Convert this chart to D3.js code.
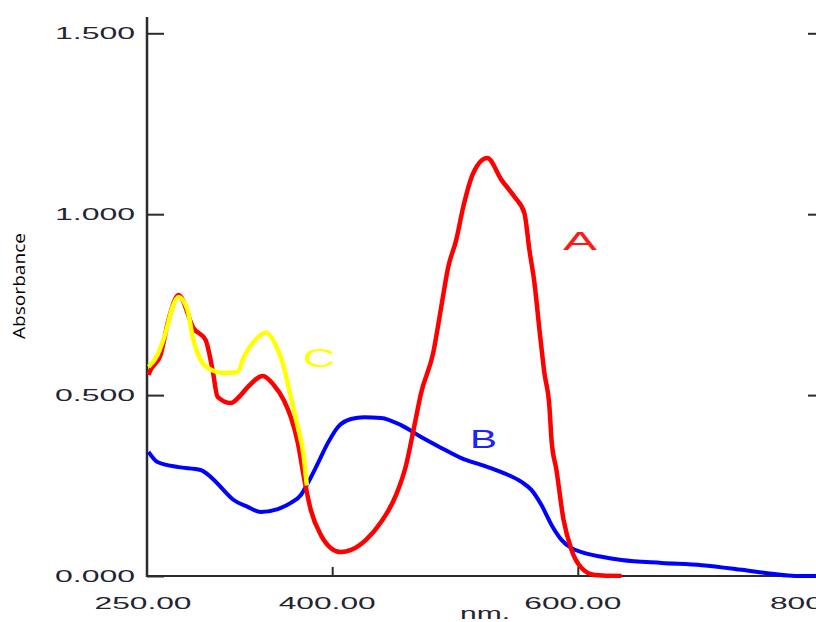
<!DOCTYPE html>
<html><head><meta charset="utf-8">
<script src="https://cdnjs.cloudflare.com/ajax/libs/d3/7.8.5/d3.min.js"></script>
<style>html,body{margin:0;padding:0;background:#fff;}svg{display:block;}</style>
</head><body><svg id="c" width="816" height="622"></svg>
<script>
// ---- data (wavelength nm, absorbance) ----
const xTicks = [250, 400, 600, 800];
const xTickLabels = ["250.00", "400.00", "600.00", "800.00"];
const yTicks = [0, 0.5, 1.0, 1.5];
const yTickLabels = ["0.000", "0.500", "1.000", "1.500"];

const seriesA_wl = [250,251.6,259.8,266.3,274.5,286.7,296.5,302.2,306.3,316.9,325.1,330.8,343.1,352,360.2,365.9,371.6,376.5,382.2,390.4,398.6,406.7,414.9,427.1,439.4,451.6,459.8,466.3,472,481.8,488.4,494.1,500.6,506.3,514.5,525.9,537.4,548,556.1,560.2,564.3,568.4,572.4,576.5,578.2,582.2,588,594.5,602.7,613.3,635.3];
const seriesA_abs = [0.556,0.569,0.611,0.708,0.777,0.685,0.652,0.569,0.495,0.478,0.500,0.522,0.553,0.528,0.486,0.439,0.368,0.274,0.182,0.113,0.077,0.066,0.072,0.100,0.149,0.224,0.307,0.412,0.506,0.616,0.744,0.854,0.929,1.020,1.114,1.155,1.095,1.048,1.003,0.901,0.810,0.680,0.561,0.467,0.376,0.293,0.155,0.072,0.022,0.003,0];

const seriesB_wl = [250,257.3,274.5,292.4,300.6,308.8,319.4,330.8,341.4,355.3,365.9,374.1,379.8,388,396.1,404.3,414.9,425.5,439.4,455.7,472,488.4,504.7,521,537.4,553.7,561.8,570,578.2,586.3,594.5,602.7,619,635.3,668,700.7,733.3,757.8,776.5,800];
const seriesB_abs = [0.343,0.315,0.301,0.293,0.274,0.246,0.210,0.191,0.177,0.185,0.202,0.224,0.257,0.312,0.368,0.412,0.434,0.439,0.437,0.417,0.384,0.354,0.326,0.307,0.287,0.260,0.238,0.196,0.141,0.100,0.077,0.066,0.053,0.044,0.036,0.030,0.017,0.006,0,0];

const seriesC_wl = [250,257.3,263.9,269.6,274.5,281.8,285.9,290,298.2,311.2,322.7,327.6,335.7,345.5,353.7,360.2,365.9,371.6,376.5,378.2,379];
const seriesC_abs = [0.578,0.611,0.672,0.744,0.771,0.735,0.661,0.616,0.575,0.561,0.564,0.605,0.647,0.672,0.638,0.578,0.495,0.412,0.329,0.274,0.25];

const seriesNames = ["A", "B", "C"];
const seriesColors = ["#ff0000", "#0000ff", "#ffff00"];
const labelColors = ["#ff1a1a", "#2020ff", "#ffff00"];

// ---- chart ----
const svg = d3.select("#c");
const x = d3.scaleLinear().domain([250, 800]).range([148.5, 823.9]);
const y = d3.scaleLinear().domain([0, 1.5]).range([576, 33.3]);
const axisColor = "#2b2b2b";
const fontFam = "'Liberation Sans', Arial, sans-serif";

// y axis (left)
const yAxis = d3.axisLeft(y).tickValues(yTicks).tickSizeInner(-17).tickSizeOuter(0).tickPadding(12)
  .tickFormat((d, i) => yTickLabels[i]);
const gy = svg.append("g").attr("transform", "translate(147,0)").call(yAxis);
gy.select(".domain").remove();
gy.selectAll(".tick line").attr("stroke", axisColor).attr("stroke-width", 2);
gy.selectAll(".tick text").attr("fill", "#242430").attr("font-family", fontFam).attr("font-size", 16)
  .attr("textLength", 80).attr("lengthAdjust", "spacingAndGlyphs");
svg.append("line").attr("x1", 147).attr("x2", 147).attr("y1", 17).attr("y2", 577)
  .attr("stroke", axisColor).attr("stroke-width", 2.5);

// right ticks
const yAxisR = d3.axisLeft(y).tickValues(yTicks.slice(1)).tickSize(8).tickFormat("");
const gr = svg.append("g").attr("transform", "translate(816,0)").call(yAxisR);
gr.select(".domain").remove();
gr.selectAll(".tick line").attr("stroke", axisColor).attr("stroke-width", 2);

// x axis
const xAxis = d3.axisBottom(x).tickValues(xTicks).tickSizeInner(0).tickSizeOuter(0).tickPadding(22)
  .tickFormat((d, i) => xTickLabels[i]);
const gx = svg.append("g").attr("transform", "translate(0,576)").call(xAxis);
gx.select(".domain").remove();
gx.selectAll(".tick text").attr("fill", "#242430").attr("font-family", fontFam).attr("font-size", 16)
  .attr("dx", -6).attr("textLength", 97).attr("lengthAdjust", "spacingAndGlyphs");
svg.append("line").attr("x1", 147).attr("x2", 816).attr("y1", 576).attr("y2", 576)
  .attr("stroke", axisColor).attr("stroke-width", 2);
svg.append("g").selectAll("line").data([400, 600]).join("line")
  .attr("x1", d => x(d)).attr("x2", d => x(d)).attr("y1", 567).attr("y2", 576)
  .attr("stroke", axisColor).attr("stroke-width", 2);

svg.append("text").attr("x", 485).attr("y", 619).attr("text-anchor", "middle")
  .attr("font-family", fontFam).attr("font-size", 16).attr("fill", "#242430")
  .attr("textLength", 50).attr("lengthAdjust", "spacingAndGlyphs").text("nm.");

svg.append("text").attr("transform", "translate(25,286) rotate(-90)").attr("text-anchor", "middle")
  .attr("font-family", "'Open Sans', sans-serif").attr("font-size", 17).attr("fill", "#000")
  .attr("textLength", 106).attr("lengthAdjust", "spacingAndGlyphs")
  .text("Absorbance");

// lines
const line = d3.line().x(d => x(d[0])).y(d => y(d[1])).curve(d3.curveMonotoneX);
const series = [
  {wl: seriesA_wl, ab: seriesA_abs, c: seriesColors[0]},
  {wl: seriesB_wl, ab: seriesB_abs, c: seriesColors[1]},
  {wl: seriesC_wl, ab: seriesC_abs, c: seriesColors[2]}
];
svg.append("clipPath").attr("id", "cp").append("rect").attr("x", 147).attr("y", 0).attr("width", 669).attr("height", 578);
[1, 0, 2].forEach(i => {
  const s = series[i];
  svg.append("path").attr("clip-path", "url(#cp)")
    .datum(s.wl.map((w, k) => [w, s.ab[k]]))
    .attr("d", line).attr("fill", "none").attr("stroke", s.c)
    .attr("stroke-width", i === 1 ? 4 : 4.5).attr("stroke-linejoin", "round");
});

// series labels (positions in data units)
const labelPos = [[587.5, 0.901, 34], [511.8, 0.354, 27], [375.8, 0.578, 32]];
labelPos.forEach((p, i) => {
  svg.append("text").attr("x", x(p[0])).attr("y", y(p[1]))
    .attr("font-family", fontFam).attr("font-size", 25).attr("fill", labelColors[i])
    .attr("textLength", p[2]).attr("lengthAdjust", "spacingAndGlyphs").text(seriesNames[i]);
});
</script></body></html>
